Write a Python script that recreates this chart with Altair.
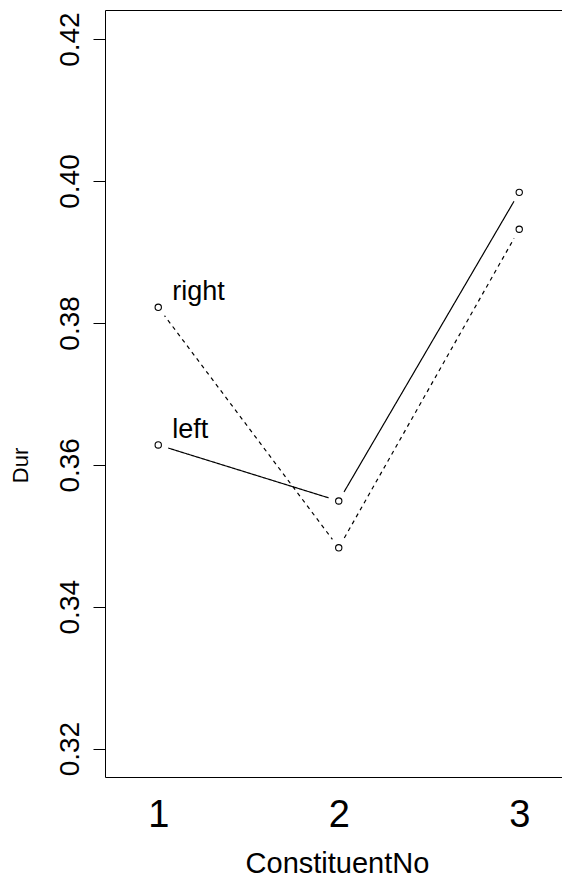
import altair as alt
import pandas as pd

# ---- data ----
constituent_no = [1, 2, 3]
dur_left = [0.3628, 0.3549, 0.3984]
dur_right = [0.3822, 0.3483, 0.3932]
series = ["left", "right"]
y_ticks = [0.32, 0.34, 0.36, 0.38, 0.40, 0.42]
x_ticks = [1, 2, 3]

rows = []
for s, vals in zip(series, [dur_left, dur_right]):
    for c, v in zip(constituent_no, vals):
        rows.append({"ConstituentNo": c, "Dur": v, "side": s})
df = pd.DataFrame(rows)
labels_df = df[df["ConstituentNo"] == constituent_no[0]].copy()

FONT = "Liberation Sans"
xscale = alt.Scale(domain=[0.705, 3.2757], nice=False, zero=False)
yscale = alt.Scale(domain=[0.3160, 0.4241], nice=False, zero=False)

yenc = alt.Y(
    "Dur:Q",
    scale=yscale,
    axis=alt.Axis(
        values=y_ticks, format=".2f", grid=False,
        labelAngle=270, labelAlign="center", labelBaseline="alphabetic",
        labelPadding=15, tickSize=12, tickColor="black", tickWidth=1,
        domainColor="black", domainWidth=1,
        labelColor="black", labelFontSize=28, labelFont=FONT,
        title="Dur", titleFont=FONT, titleFontSize=22, titleFontWeight="normal",
        titleColor="black", titleAngle=270, titleX=-78, titleY=455,
        titleAlign="center", titleBaseline="alphabetic",
    ),
)

x_bottom = alt.X(
    "ConstituentNo:Q",
    scale=xscale,
    axis=alt.Axis(
        values=x_ticks, format="d", grid=False, ticks=False, tickSize=0,
        domainColor="black", domainWidth=1,
        labelColor="black", labelFontSize=38, labelFont=FONT,
        labelPadding=19, labelBaseline="top",
        title="ConstituentNo", titleFont=FONT, titleFontSize=29,
        titleFontWeight="normal", titleColor="black",
        titleY=95, titleBaseline="alphabetic",
    ),
)
x_none = alt.X("ConstituentNo:Q", scale=xscale, axis=None)
x_top = alt.X(
    "ConstituentNo:Q",
    scale=xscale,
    axis=alt.Axis(orient="top", labels=False, ticks=False, grid=False,
                  title=None, domainColor="black", domainWidth=1),
)

base = alt.Chart(df)

lines = base.mark_line(color="black", strokeWidth=1.2).encode(
    x=x_bottom,
    y=yenc,
    detail="side:N",
    strokeDash=alt.StrokeDash(
        "side:N",
        scale=alt.Scale(domain=series, range=[[1, 0], [4, 4]]),
        legend=None,
    ),
    order="ConstituentNo:Q",
)

gaps = base.mark_point(shape="circle", filled=True, color="white",
                       size=450, opacity=1, strokeWidth=0).encode(
    x=x_none, y=yenc
)

pts = base.mark_point(shape="circle", filled=False, color="black",
                      size=40, opacity=1, strokeWidth=1.1).encode(
    x=x_none, y=yenc
)

texts = alt.Chart(labels_df).mark_text(
    align="left", baseline="alphabetic", dx=14, dy=-7,
    fontSize=27, font=FONT, color="black",
).encode(x=x_none, y=yenc, text="side:N")

top = base.mark_point(opacity=0).encode(x=x_top, y=yenc)

chart = (
    alt.layer(lines, gaps, pts, texts, top)
    .resolve_axis(x="independent")
    .properties(
        width=464, height=767,
        padding={"left": 97, "top": 2, "right": -7, "bottom": 102},
        autosize=alt.AutoSizeParams(type="none"),
        background="white",
    )
    .configure_view(stroke=None)
)

chart.save("out.html", embed_options={"renderer": "svg", "actions": False})
